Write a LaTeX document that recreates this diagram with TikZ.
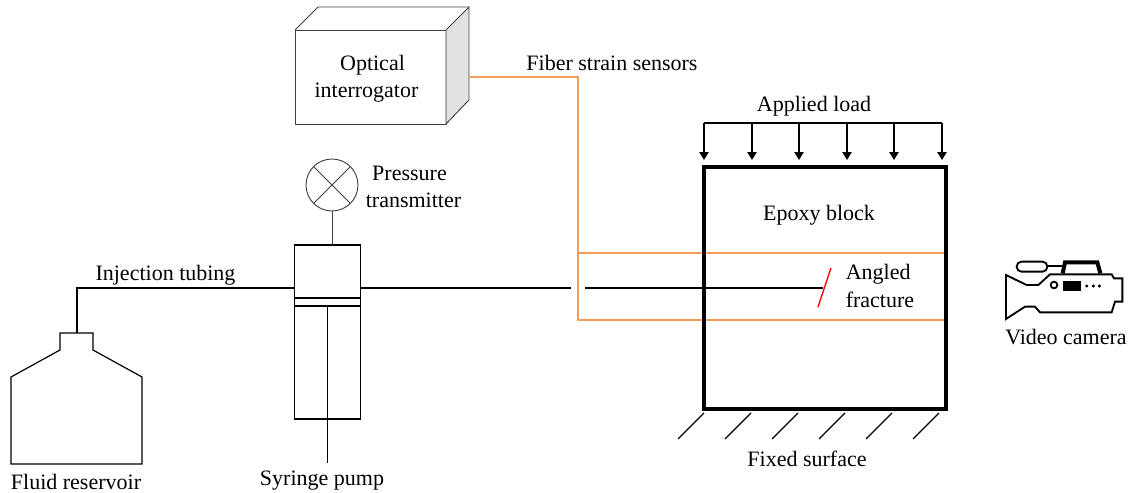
\documentclass[tikz,border=0pt]{standalone}
\usepackage{fontspec}
\setmainfont{Liberation Serif}
\usepackage{xcolor}
\definecolor{fiberOrange}{HTML}{F79B55}
\definecolor{sideGray}{HTML}{E2E2E2}
\usepackage{tikz}
\usetikzlibrary{arrows.meta}
\begin{document}
\begin{tikzpicture}[x=.75pt,y=-.75pt,
  lbl/.style={inner sep=0pt,align=center,font=\fontsize{16.5}{20.5}\selectfont},
  part/.style={draw,inner sep=0pt,outer sep=0pt,line width=1.1pt},
  pipe/.style={line width=.9pt},
  thinline/.style={line width=.7pt,draw=black!75},
  fiber/.style={draw=fiberOrange,line width=2pt},
  arr/.style={-{Triangle[length=6pt,width=7pt]},line width=.9pt},
  hatchline/.style={line width=.9pt}]
  \useasboundingbox (0,0) rectangle (1133,493);
  \coordinate (tube) at (200,288);
  \coordinate (gapL) at (571,288);
  \coordinate (gapR) at (585,288);
  \coordinate (fracmid) at (823,288);
  \coordinate (fiberout) at (469,77);
  \coordinate (fiberturn) at (578,77);
  \coordinate (sensorA) at (578,253);
  \coordinate (sensorB) at (578,320);
  \coordinate (neck) at (77,333);
  \coordinate (plateA) at (327,298);
  \coordinate (plateB) at (327.5,306);
  \coordinate (rodend) at (327.5,463);
  \coordinate (fracA) at (831,268);
  \coordinate (fracB) at (818,307);

  \node[part,thinline,minimum width=113.2pt,minimum height=70.5pt] (optbox) at (370.5,77) {};
  \filldraw[thinline,fill=sideGray] (optbox.north east)--++(23,-23)--++(0,93)--(optbox.south east)--cycle;
  \draw[thinline] (optbox.north west)--++(23,-23)--++(151,0);
  \node[part,minimum width=49.2pt,minimum height=130.5pt] (pump) at (327.5,332) {};
  \node[part,thinline,circle,minimum size=39pt] (gauge) at (332,185) {};
  \draw[thinline] (gauge.45)--(gauge.225);
  \draw[thinline] (gauge.135)--(gauge.315);
  \draw[thinline] (gauge.south)--(gauge.south |- pump.north);

  \draw[pipe] (neck)|-(pump.west |- tube);
  \draw[pipe] (pump.east |- tube)--(gapL);
  \draw[pipe] (gapR)--(fracmid);
  \draw[pipe] (pump.west |- plateA)--(pump.east |- plateA);
  \draw[pipe] (pump.west |- plateB)--(pump.east |- plateB);
  \draw[pipe] (plateB)--(rodend);
  \draw[pipe] (60,350)--(60,333)--(93,333)--(93,350)--(142,377)--(142,464)--(11,464)--(11,377)--cycle;

  \draw[fiber] (fiberout)-|(sensorB)--(sensorB -| 945,0);
  \draw[fiber] (sensorA)--(sensorA -| 945,0);
  \draw[red,line width=1pt] (fracA)--(fracB);
  \node[part,line width=3.2pt,minimum width=181.5pt,minimum height=181.5pt] (block) at (825,288) {};

  \draw[arr] (704,123) coordinate (load1)--++(0,37);
  \draw[arr] (752,123) coordinate (load2)--++(0,37);
  \draw[arr] (799,123) coordinate (load3)--++(0,37);
  \draw[arr] (847,123) coordinate (load4)--++(0,37);
  \draw[arr] (894,123) coordinate (load5)--++(0,37);
  \draw[arr] (942,123) coordinate (load6)--++(0,37);
  \draw[line width=.9pt] (load1)--(load6);

  \draw[hatchline] (704,413)--++(-26,26);
  \draw[hatchline] (751,413)--++(-26,26);
  \draw[hatchline] (798,413)--++(-26,26);
  \draw[hatchline] (845,413)--++(-26,26);
  \draw[hatchline] (892,413)--++(-26,26);
  \draw[hatchline] (939,413)--++(-26,26);

  \begin{scope}[shift={(990,240)},x=.25pt,y=-.25pt,line width=1.4pt]
    \draw (48,105)--(110,135)--(145,135)--(180,103)--(365,103)--(372,115)--(397,115)--(397,185)
      --(375,185)--(365,217)--(150,217)--(135,200)--(105,200)--(48,237)--cycle;
    \draw[rounded corners=3.6pt] (80,65) rectangle (172,95);
    \draw[line width=2.2pt] (172,78)--(222,78);
    \draw[line width=3pt] (218,100)--(225,67)--(322,67)--(331,100);
    \draw (192,135) circle (10);
    \fill (218,122) rectangle (272,152);
    \fill (290,138) circle (5);
    \fill (310,138) circle (5);
    \fill (328,138) circle (5);
  \end{scope}

  \node[lbl] (optlbl) at (366.5,79) {\hspace{9pt}Optical\\interrogator};
  \node[lbl] (fiberlbl) at (612,63) {Fiber strain sensors};
  \node[lbl] (presslbl) at (413.5,187) {Pressure\rule{6pt}{0pt}\\transmitter};
  \node[lbl] (tubelbl) at (165.5,275) {Injection tubing};
  \node[lbl] (loadlbl) at (814,106) {Applied load};
  \node[lbl] (blocklbl) at (819,215) {Epoxy block};
  \node[lbl,align=left,anchor=west] (fraclbl) at (845.5,286) {Angled\\fracture};
  \node[lbl] (camlbl) at (1066,337) {Video camera};
  \node[lbl] (fixlbl) at (807,459) {Fixed surface};
  \node[lbl] (reslbl) at (76,482) {Fluid reservoir};
  \node[lbl] (pumplbl) at (322,481) {Syringe pump};
\end{tikzpicture}
\end{document}
